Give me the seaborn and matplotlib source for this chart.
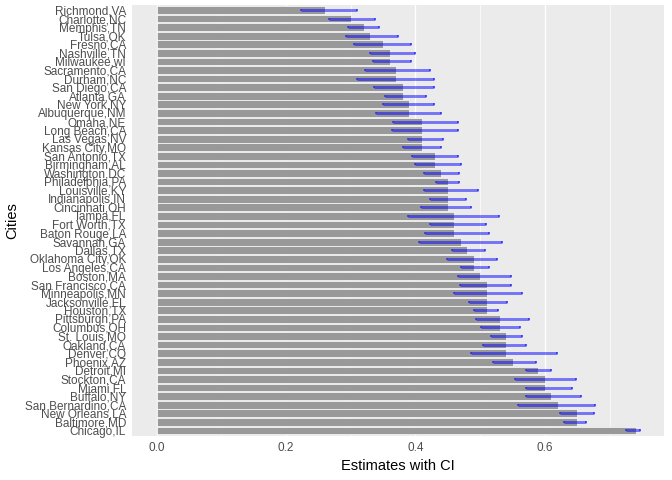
import numpy as np
import pandas as pd
import matplotlib
matplotlib.use("Agg")
import matplotlib.pyplot as plt
import seaborn as sns
from matplotlib.ticker import MultipleLocator

# 数据：城市、估计值、置信区间上下限
cities = [
    "Richmond,VA", "Charlotte,NC", "Memphis,TN", "Tulsa,OK", "Fresno,CA",
    "Nashville,TN", "Milwaukee,wI", "Sacramento,CA", "Durham,NC", "San Diego,CA",
    "Atlanta,GA", "New York,NY", "Albuquerque,NM", "Omaha,NE", "Long Beach,CA",
    "Las Vegas,NV", "Kansas City,MO", "San Antonio,TX", "Birmingham,AL", "Washington,DC",
    "Philadelphia,PA", "Louisville,KY", "Indianapolis,IN", "Cincinnati,OH", "Tampa,FL",
    "Fort Worth,TX", "Baton Rouge,LA", "Savannah,GA", "Dallas,TX", "Oklahoma City,OK",
    "Los Angeles,CA", "Boston,MA", "San Francisco,CA", "Minneapolis,MN", "Jacksonville,FL",
    "Houston,TX", "Pittsburgh,PA", "Columbus,OH", "St. Louis,MO", "Oakland,CA",
    "Denver,CO", "Phoenix,AZ", "Detroit,MI", "Stockton,CA", "Miami,FL",
    "Buffalo,NY", "San Bernardino,CA", "New Orleans,LA", "Baltimore,MD", "Chicago,IL",
]
estimate = [
    0.26, 0.30, 0.32, 0.33, 0.35, 0.36, 0.36, 0.37, 0.37, 0.38,
    0.38, 0.39, 0.39, 0.41, 0.41, 0.41, 0.41, 0.43, 0.43, 0.44,
    0.45, 0.45, 0.45, 0.45, 0.46, 0.46, 0.46, 0.47, 0.48, 0.49,
    0.49, 0.50, 0.51, 0.51, 0.51, 0.51, 0.53, 0.53, 0.54, 0.54,
    0.54, 0.55, 0.59, 0.60, 0.60, 0.61, 0.62, 0.65, 0.65, 0.74,
]
ci_low = [
    0.223, 0.266, 0.296, 0.293, 0.305, 0.329, 0.334, 0.322, 0.310, 0.336,
    0.353, 0.350, 0.339, 0.366, 0.363, 0.389, 0.381, 0.395, 0.399, 0.413,
    0.431, 0.413, 0.423, 0.409, 0.389, 0.423, 0.415, 0.405, 0.457, 0.448,
    0.470, 0.465, 0.469, 0.459, 0.482, 0.490, 0.494, 0.501, 0.516, 0.505,
    0.486, 0.520, 0.570, 0.553, 0.570, 0.570, 0.559, 0.624, 0.629, 0.725,
]
ci_high = [
    0.309, 0.337, 0.344, 0.373, 0.393, 0.399, 0.393, 0.423, 0.428, 0.428,
    0.416, 0.429, 0.439, 0.465, 0.466, 0.443, 0.439, 0.465, 0.471, 0.467,
    0.467, 0.496, 0.478, 0.486, 0.529, 0.509, 0.513, 0.534, 0.508, 0.526,
    0.513, 0.547, 0.548, 0.565, 0.542, 0.528, 0.575, 0.561, 0.565, 0.570,
    0.619, 0.586, 0.609, 0.648, 0.642, 0.656, 0.678, 0.676, 0.664, 0.747,
]

df = pd.DataFrame({"city": cities, "estimate": estimate,
                   "low": ci_low, "high": ci_high})

sns.set_theme(style="darkgrid")
plt.rcParams["font.family"] = ["Liberation Sans", "DejaVu Sans"]

fig = plt.figure(figsize=(7, 5), dpi=96)
ax = fig.add_axes([0.197, 0.0925, 0.7915, 0.8975])
ax.set_facecolor("#EBEBEB")
ax.grid(True, which="major", color="white", linewidth=1.0)
ax.grid(True, which="minor", axis="x", color="white", linewidth=0.5)
ax.set_axisbelow(True)

sns.barplot(data=df, x="estimate", y="city", order=cities, orient="h",
            color="#999999", saturation=1, width=0.9, errorbar=None,
            edgecolor="white", linewidth=0.5, ax=ax)

# 置信区间（半透明蓝色误差线）
ypos = np.arange(len(df))
ax.errorbar(x=df["estimate"], y=ypos,
            xerr=[df["estimate"] - df["low"], df["high"] - df["estimate"]],
            fmt="none", ecolor="blue", alpha=0.5, elinewidth=2.2,
            capsize=0.8, capthick=1.5, zorder=3)

ax.set_xlim(-0.0374, 0.7844)
ax.set_ylim(len(df) - 0.4, -0.6)
ax.xaxis.set_major_locator(MultipleLocator(0.2))
ax.xaxis.set_minor_locator(MultipleLocator(0.1))
ax.set_xticks([0.0, 0.2, 0.4, 0.6])
ax.set_xticklabels(["0.0", "0.2", "0.4", "0.6"])

for s in ax.spines.values():
    s.set_visible(False)
ax.tick_params(axis="both", which="major", length=2.75, width=0.8,
               color="#333333", labelcolor="#4D4D4D", labelsize=8.8, pad=2)
ax.tick_params(axis="x", which="minor", length=0)

ax.set_xlabel("Estimates with CI", fontsize=11, color="black", labelpad=4)
ax.set_ylabel("Cities", fontsize=11, color="black", labelpad=4)

fig.savefig("out.png", dpi=96)
